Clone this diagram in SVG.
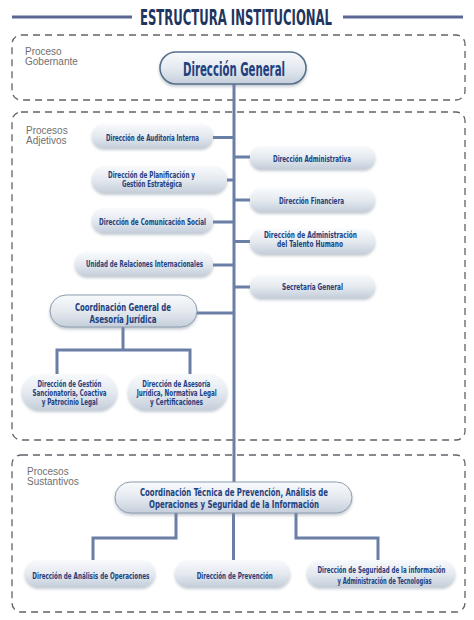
<svg xmlns="http://www.w3.org/2000/svg" width="474" height="620" viewBox="0 0 474 620">
<style>
.bg{fill:#ffffff}
.tl{stroke:#5b6694;stroke-width:3.2}
.title{font-family:"Liberation Sans Narrow","DejaVu Sans Condensed","Liberation Sans",sans-serif;font-weight:bold;font-size:21px;fill:#1f3560}
.zone{fill:none;stroke:#5f6368;stroke-width:1.3;stroke-dasharray:7 5}
.zl{font-family:"Liberation Sans","DejaVu Sans",sans-serif;font-size:10px;fill:#707070}
.n{fill:url(#g);filter:url(#sh)}
.nb{fill:url(#g);filter:url(#sh);stroke:#8d9db0;stroke-width:1}
.nm{fill:url(#g);filter:url(#sh);stroke:#55708a;stroke-width:1.6}
.t{font-family:"Liberation Sans Narrow","DejaVu Sans Condensed","Liberation Sans",sans-serif;font-weight:bold;fill:#22407e;text-anchor:start}
.s{font-size:9.5px}
.x{font-size:8.8px}
.m{font-size:11.2px}
.l{font-size:19px}
.c{fill:none;stroke:#6b7fa6;stroke-width:3}
</style>
<defs>
<linearGradient id="g" x1="0" y1="0" x2="0" y2="1">
<stop offset="0" stop-color="#f8fafc"/>
<stop offset="0.5" stop-color="#e5eaf0"/>
<stop offset="1" stop-color="#c4ceda"/>
</linearGradient>
<filter id="sh" x="-10%" y="-20%" width="120%" height="160%">
<feDropShadow dx="0" dy="2" stdDeviation="1.5" flood-color="#7d8999" flood-opacity="0.45"/>
</filter>
</defs>
<rect class="bg" x="0" y="0" width="474" height="620"/>

<g id="title">
<line class="tl" x1="12" y1="17" x2="132" y2="17"/>
<line class="tl" x1="343" y1="17" x2="463" y2="17"/>
<text class="title" x="140" y="25" textLength="192" lengthAdjust="spacingAndGlyphs">ESTRUCTURA INSTITUCIONAL</text>
</g>

<g id="zones">
<rect class="zone" x="12" y="35" width="453" height="65" rx="9"/>
<rect class="zone" x="12" y="112" width="453" height="328" rx="9"/>
<rect class="zone" x="12" y="455" width="453" height="157" rx="9"/>
<text class="zl" x="25" y="55">Proceso</text>
<text class="zl" x="25" y="65">Gobernante</text>
<text class="zl" x="26" y="134">Procesos</text>
<text class="zl" x="26" y="144">Adjetivos</text>
<text class="zl" x="27" y="475">Procesos</text>
<text class="zl" x="27" y="485">Sustantivos</text>
</g>

<g id="connectors">
<path class="c" d="M234 84 V482"/>
<path class="c" d="M213 137.5 H234 M227 180 H234 M213 222 H234 M213 265 H234"/>
<path class="c" d="M234 157 H250 M234 200 H250 M234 241.5 H250 M234 287 H250"/>
<path class="c" d="M197 313 H234"/>
<path class="c" d="M123 327 V350 M57 374 V350 H190 V374"/>
<path class="c" d="M176 513 V538 H93 V560 M233.5 513 V560 M296 513 V538 H378 V560"/>
</g>

<g id="direccion-general">
<rect class="nm" x="160" y="52" width="146" height="32" rx="16"/>
<text class="t l" x="183" y="76" textLength="102" lengthAdjust="spacingAndGlyphs">Dirección General</text>
</g>

<g id="auditoria">
<rect class="n" x="92" y="124" width="121" height="24" rx="12"/>
<text class="t s" x="106" y="140.5" textLength="93" lengthAdjust="spacingAndGlyphs">Dirección de Auditoría Interna</text>
</g>

<g id="planificacion">
<rect class="n" x="92" y="166" width="135" height="27" rx="13.5"/>
<text class="t x" x="108" y="177.5" textLength="87" lengthAdjust="spacingAndGlyphs">Dirección de Planificación y</text>
<text class="t x" x="122" y="187" textLength="60" lengthAdjust="spacingAndGlyphs">Gestión Estratégica</text>
</g>

<g id="comunicacion">
<rect class="n" x="92" y="208" width="121" height="25" rx="12.5"/>
<text class="t s" x="99" y="225" textLength="107" lengthAdjust="spacingAndGlyphs">Dirección de Comunicación Social</text>
</g>

<g id="relaciones">
<rect class="n" x="75" y="252" width="138" height="24" rx="12"/>
<text class="t s" x="86" y="267" textLength="117" lengthAdjust="spacingAndGlyphs">Unidad de Relaciones Internacionales</text>
</g>

<g id="administrativa">
<rect class="n" x="250" y="146" width="125" height="23" rx="11.5"/>
<text class="t s" x="273" y="162" textLength="78" lengthAdjust="spacingAndGlyphs">Dirección Administrativa</text>
</g>

<g id="financiera">
<rect class="n" x="250" y="188" width="125" height="24" rx="12"/>
<text class="t s" x="279" y="204" textLength="65" lengthAdjust="spacingAndGlyphs">Dirección Financiera</text>
</g>

<g id="talento">
<rect class="n" x="250" y="229" width="125" height="25" rx="12.5"/>
<text class="t x" x="264" y="237.7" textLength="93" lengthAdjust="spacingAndGlyphs">Dirección de Administración</text>
<text class="t x" x="277" y="246.9" textLength="66" lengthAdjust="spacingAndGlyphs">del Talento Humano</text>
</g>

<g id="secretaria">
<rect class="n" x="250" y="275" width="125" height="23" rx="11.5"/>
<text class="t s" x="282" y="290" textLength="61" lengthAdjust="spacingAndGlyphs">Secretaría General</text>
</g>

<g id="coord-juridica">
<rect class="nb" x="50" y="295" width="147" height="32" rx="16"/>
<text class="t m" x="75" y="311" textLength="96" lengthAdjust="spacingAndGlyphs">Coordinación General de</text>
<text class="t m" x="89.5" y="322.5" textLength="67" lengthAdjust="spacingAndGlyphs">Asesoría Jurídica</text>
</g>

<g id="sancionatoria">
<rect class="n" x="22" y="374" width="95" height="36" rx="18"/>
<text class="t x" x="37.5" y="386.5" textLength="64" lengthAdjust="spacingAndGlyphs">Dirección de Gestión</text>
<text class="t x" x="32.5" y="395.8" textLength="74" lengthAdjust="spacingAndGlyphs">Sancionatoria, Coactiva</text>
<text class="t x" x="41.7" y="404.8" textLength="56" lengthAdjust="spacingAndGlyphs">y Patrocinio Legal</text>
</g>

<g id="asesoria">
<rect class="n" x="128" y="374" width="99" height="36" rx="18"/>
<text class="t x" x="142.3" y="386.5" textLength="68" lengthAdjust="spacingAndGlyphs">Dirección de Asesoría</text>
<text class="t x" x="136.7" y="395.8" textLength="80" lengthAdjust="spacingAndGlyphs">Jurídica, Normativa Legal</text>
<text class="t x" x="150" y="404.8" textLength="53" lengthAdjust="spacingAndGlyphs">y Certificaciones</text>
</g>

<g id="coord-tecnica">
<rect class="nb" x="115" y="482" width="237" height="31" rx="15.5"/>
<text class="t m" x="140" y="496" textLength="188" lengthAdjust="spacingAndGlyphs">Coordinación Técnica de Prevención, Análisis de</text>
<text class="t m" x="149" y="507.8" textLength="170" lengthAdjust="spacingAndGlyphs">Operaciones y Seguridad de la Información</text>
</g>

<g id="analisis">
<rect class="n" x="25" y="560" width="130" height="27" rx="13.5"/>
<text class="t s" x="32.3" y="579" textLength="117" lengthAdjust="spacingAndGlyphs">Dirección de Análisis de Operaciones</text>
</g>

<g id="prevencion">
<rect class="n" x="175" y="560" width="115" height="27" rx="13.5"/>
<text class="t s" x="196.7" y="579" textLength="76" lengthAdjust="spacingAndGlyphs">Dirección de Prevención</text>
</g>

<g id="seguridad">
<rect class="n" x="307" y="560" width="148" height="27" rx="13.5"/>
<text class="t x" x="317.5" y="573.3" textLength="128" lengthAdjust="spacingAndGlyphs">Dirección de Seguridad de la información</text>
<text class="t x" x="337.5" y="584" textLength="94" lengthAdjust="spacingAndGlyphs">y Administración de Tecnologías</text>
</g>
</svg>
